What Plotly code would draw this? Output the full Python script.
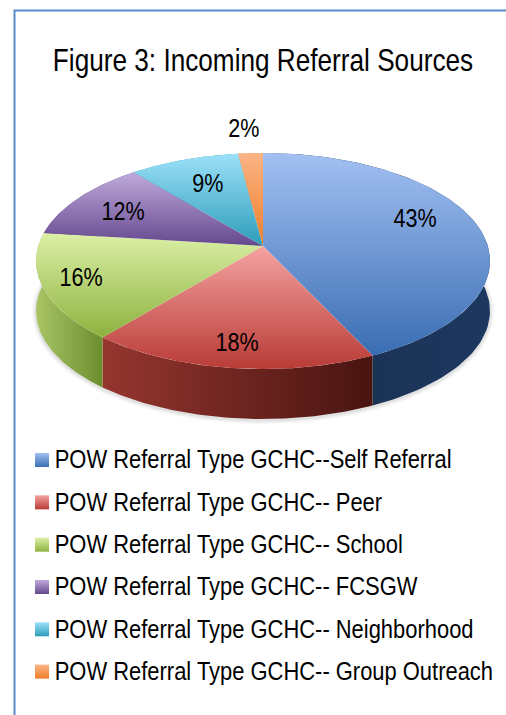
import numpy as np
import plotly.graph_objects as go

categories = ["POW Referral Type GCHC--Self Referral", "POW Referral Type GCHC-- Peer",
              "POW Referral Type GCHC-- School", "POW Referral Type GCHC-- FCSGW",
              "POW Referral Type GCHC-- Neighborhood", "POW Referral Type GCHC-- Group Outreach"]
values = [43, 18, 16, 12, 9, 2]
title_text = "Figure 3: Incoming Referral Sources"

# style: (top light, top dark) and (side left, side right)
top_colors = [("#A2C0F2", "#3A6DB3"), ("#F4A3A1", "#B93B36"), ("#DCF0A6", "#8DB23F"),
              ("#C0AADB", "#64488E"), ("#9CE0F8", "#2C9DBA"), ("#FBB486", "#EF7E28")]
side_colors = [("#1B3355", "#1D3860"), ("#96362F", "#491411"), ("#A9C566", "#6C8E2F"),
               ("#64488E", "#64488E"), ("#2C9DBA", "#2C9DBA"), ("#EF7E28", "#EF7E28")]
label_xy = [(415, 218), (237, 342), (81, 277), (123, 211), (208, 183), (244, 128)]

FONT = "Liberation Sans, Arial"
CX, CY, RX, RY, DEPTH, TILT = 263.0, 261.0, 227.0, 108.0, 50.0, 0.139


def project(theta):
    """Clockwise angle from 12 o'clock -> picture position on the tilted pie's rim."""
    u, v = np.sin(theta), np.cos(theta)
    d = 1 + TILT * v
    return CX + RX * u * np.sqrt(1 - TILT**2) / d, CY - RY * (v + TILT) / d


apex_y = CY - RY * TILT
edges = np.concatenate([[0], np.cumsum(values)]) / sum(values) * 2 * np.pi
fig = go.Figure()

# soft shadow under the pie
t = np.linspace(0, 2 * np.pi, 240)
sx, sy = project(t)
for w, a in [(9, 0.03), (6, 0.05), (3, 0.07)]:
    fig.add_trace(go.Scatter(x=sx, y=sy + DEPTH + 1, mode="lines", hoverinfo="skip", showlegend=False,
                             line=dict(color=f"rgba(60,60,60,{a})", width=w)))

# rim (drawn first, the top faces cover its hidden part)
for i, name in enumerate(categories):
    t = np.linspace(edges[i], edges[i + 1], 90)
    x, y = project(t)
    lo, hi = side_colors[i]
    vis = y >= CY - 2
    x0, x1 = (x[vis].min(), x[vis].max()) if vis.any() else (x.min(), x.max())
    fig.add_trace(go.Scatter(
        x=np.r_[x, x[::-1], x[0]], y=np.r_[y, y[::-1] + DEPTH, y[0]], mode="lines", fill="toself",
        line=dict(width=0), hoverinfo="skip", showlegend=False,
        fillgradient=dict(type="horizontal", start=x0, stop=x1, colorscale=[[0, lo], [1, hi]])))

# top faces
for i, name in enumerate(categories):
    t = np.linspace(edges[i], edges[i + 1], 120)
    x, y = project(t)
    light, dark = top_colors[i]
    fig.add_trace(go.Scatter(
        x=np.r_[CX, x, CX], y=np.r_[apex_y, y, apex_y], mode="lines", fill="toself",
        line=dict(width=0), name=name, showlegend=False, hovertemplate=f"{name}: {values[i]}%<extra></extra>",
        fillgradient=dict(type="vertical", start=min(y.min(), apex_y), stop=max(y.max(), apex_y),
                          colorscale=[[0, light], [1, dark]])))

# value labels
for v, (lx, ly) in zip(values, label_xy):
    fig.add_annotation(x=lx, y=ly, text=f"{v}%", showarrow=False, font=dict(family=FONT, size=26, color="#000"))

# legend column
for i, name in enumerate(categories):
    fig.add_trace(go.Scatter(
        x=[42], y=[460 + i * 42.33], mode="markers+text", text=[name], textposition="middle right",
        textfont=dict(family=FONT, size=26, color="#000"), showlegend=False, hoverinfo="skip",
        marker=dict(symbol="square", size=14, color=top_colors[i][0], line=dict(width=0),
                    gradient=dict(type="vertical", color=top_colors[i][1]))))

fig.add_annotation(x=263, y=60, text=title_text, showarrow=False, font=dict(family=FONT, size=32, color="#000"))
fig.add_shape(type="path", path="M 14.5 715 L 14.5 10.5 L 506 10.5", line=dict(color="#5B8CCB", width=2))

fig.update_layout(width=506, height=715, margin=dict(l=0, r=0, t=0, b=0), paper_bgcolor="white",
                  plot_bgcolor="white", showlegend=False,
                  xaxis=dict(range=[0, 506], visible=False, fixedrange=True),
                  yaxis=dict(range=[715, 0], visible=False, fixedrange=True))

# The reference's type is an Arial-Narrow-like face: squeeze the real SVG text horizontally.
post = """
document.body.style.margin = '0';
document.documentElement.style.overflow = 'hidden';
function squeezeOne(el, s, dx, dy) {
  if (el.dataset.sq) return;
  el.dataset.sq = '1';
  var x = parseFloat(el.getAttribute('x')) || 0;
  var old = el.getAttribute('transform') || '';
  el.setAttribute('transform', old + ' translate(' + (x + dx) + ',' + dy + ') scale(' + s + ',1) translate(' + (-x) + ',0)');
}
function squeeze() {
  document.querySelectorAll('.annotation-text').forEach(function (el) {
    squeezeOne(el, el.textContent.indexOf('Figure') === 0 ? 0.818 : 0.83, 0, 0);
  });
  document.querySelectorAll('.textpoint text').forEach(function (el) {
    squeezeOne(el, 0.8435, 3, 2);
  });
}
squeeze();
setTimeout(squeeze, 100);
"""
fig.write_html("out.html", config=dict(displayModeBar=False), post_script=post)
